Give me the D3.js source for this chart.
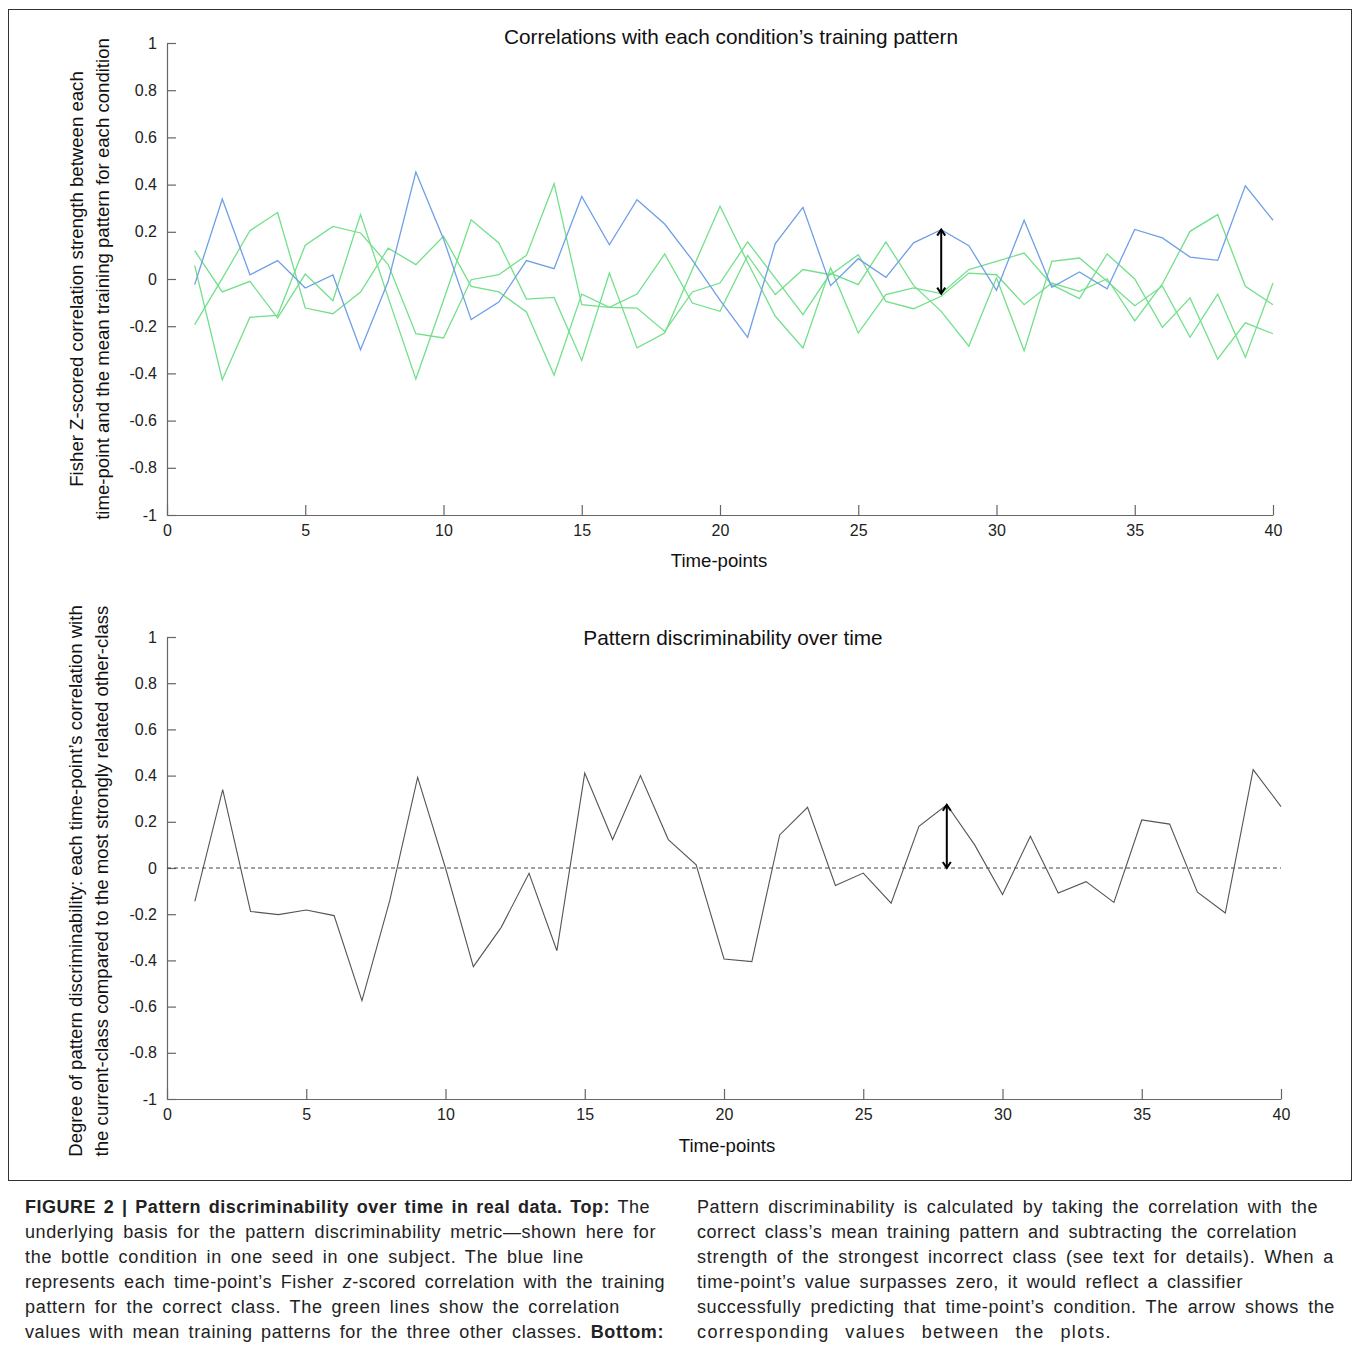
<!DOCTYPE html>
<html>
<head>
<meta charset="utf-8">
<script src="https://cdn.jsdelivr.net/npm/d3@7"></script>
<style>
  body { margin: 0; background: #fff; }
  text { font-family: Arial, "Liberation Sans", sans-serif; }
</style>
</head>
<body>
<div id="chart"></div>
<script>
// time-points 1..40
const timePoints = d3.range(1, 41);

// correlation with the correct class (blue)
const correctClass = [-0.024, 0.339, 0.018, 0.078, -0.038, 0.017, -0.30, -0.01, 0.453, 0.17,
  -0.172, -0.098, 0.078, 0.044, 0.35, 0.145, 0.336, 0.233, 0.08, -0.09,
  -0.247, 0.15, 0.304, -0.028, 0.086, 0.007, 0.153, 0.209, 0.141, -0.048,
  0.249, -0.035, 0.03, -0.042, 0.21, 0.174, 0.093, 0.079, 0.395, 0.249];

// correlations with the three other classes (green)
const otherClassA = [0.12, -0.055, -0.01, -0.165, 0.021, -0.092, 0.273, -0.079, -0.424, -0.09,
  0.251, 0.153, -0.085, -0.078, -0.345, 0.025, -0.292, -0.229, 0.04, 0.308,
  0.07, -0.158, -0.292, 0.047, -0.229, -0.066, -0.038, -0.062, 0.04, 0.075,
  0.11, -0.024, -0.083, 0.106, 0.0, -0.205, -0.08, -0.339, -0.186, -0.232];
const otherClassB = [0.058, -0.427, -0.162, -0.154, 0.143, 0.223, 0.195, 0.061, -0.232, -0.25,
  -0.003, 0.018, 0.10, 0.404, -0.109, -0.12, -0.064, 0.106, -0.102, -0.137,
  0.10, -0.066, 0.04, 0.018, 0.103, -0.095, -0.126, -0.073, 0.025, 0.018,
  -0.109, -0.017, -0.052, 0.001, -0.177, -0.021, 0.202, 0.273, -0.031, -0.109];
const otherClassC = [-0.193, 0.003, 0.205, 0.282, -0.123, -0.147, -0.055, 0.131, 0.061, 0.181,
  -0.031, -0.055, -0.14, -0.408, -0.064, -0.12, -0.123, -0.222, -0.055, -0.017,
  0.157, 0.004, -0.151, 0.025, -0.024, 0.157, -0.027, -0.137, -0.285, 0.004,
  -0.304, 0.075, 0.089, -0.01, -0.113, -0.03, -0.247, -0.064, -0.332, -0.017];

// pattern discriminability (bottom)
const discriminability = [-0.144, 0.339, -0.188, -0.202, -0.182, -0.206, -0.574, -0.14, 0.392, 0.0,
  -0.427, -0.257, -0.023, -0.358, 0.411, 0.123, 0.40, 0.123, 0.014, -0.394,
  -0.405, 0.143, 0.263, -0.076, -0.022, -0.152, 0.18, 0.274, 0.10, -0.115,
  0.137, -0.108, -0.059, -0.149, 0.208, 0.19, -0.105, -0.195, 0.426, 0.266];

const yTicks = [-1, -0.8, -0.6, -0.4, -0.2, 0, 0.2, 0.4, 0.6, 0.8, 1];
const xTicks = [0, 5, 10, 15, 20, 25, 30, 35, 40];
const arrowTime = 28;

const captionLeft = [
  [["FIGURE 2 | Pattern discriminability over time in real data. Top:", "b"], [" The", ""]],
  [["underlying basis for the pattern discriminability metric\u2014shown here for", ""]],
  [["the bottle condition in one seed in one subject. The blue line", ""]],
  [["represents each time-point\u2019s Fisher ", ""], ["z", "i"], ["-scored correlation with the training", ""]],
  [["pattern for the correct class. The green lines show the correlation", ""]],
  [["values with mean training patterns for the three other classes. ", ""], ["Bottom:", "b"]]
];
const captionLeftWidths = [625, 631, 559, 640, 595, 639];
const captionRight = [
  "Pattern discriminability is calculated by taking the correlation with the",
  "correct class\u2019s mean training pattern and subtracting the correlation",
  "strength of the strongest incorrect class (see text for details). When a",
  "time-point\u2019s value surpasses zero, it would reflect a classifier",
  "successfully predicting that time-point\u2019s condition. The arrow shows the",
  "corresponding values between the plots."
];
const captionRightWidths = [621, 600, 637, 546, 638, 415];

const width = 1355, height = 1351;
const svg = d3.select("#chart").append("svg")
  .attr("width", width).attr("height", height);

// figure frame
svg.append("rect")
  .attr("x", 8.5).attr("y", 9.5).attr("width", 1343).attr("height", 1171)
  .attr("fill", "none").attr("stroke", "#333").attr("stroke-width", 1);

const fmt = d => String(+d.toFixed(1));

function drawAxes(g, x, y) {
  const yAxis = g.append("g")
    .attr("transform", `translate(${x.range()[0]},0)`)
    .call(d3.axisLeft(y).tickValues(yTicks).tickFormat(fmt).tickSize(-9).tickSizeOuter(0).tickPadding(10));
  const xAxis = g.append("g")
    .attr("transform", `translate(0,${y.range()[0]})`)
    .call(d3.axisBottom(x).tickValues(xTicks).tickFormat(fmt).tickSize(-10).tickSizeOuter(0).tickPadding(10));
  [yAxis, xAxis].forEach(a => {
    a.selectAll("path, line").attr("stroke", "#666").attr("stroke-width", 1.2);
    a.selectAll("text").attr("font-size", 16).attr("fill", "#222")
      .attr("font-family", "Arial, 'Liberation Sans', sans-serif");
  });
}

function arrow(g, xPos, yFrom, yTo) {
  g.append("line")
    .attr("x1", xPos).attr("x2", xPos).attr("y1", yFrom + 1).attr("y2", yTo - 1)
    .attr("stroke", "#000").attr("stroke-width", 2);
  g.append("path")
    .attr("d", `M${xPos - 4},${yFrom + 6}L${xPos},${yFrom}L${xPos + 4},${yFrom + 6}`)
    .attr("fill", "none").attr("stroke", "#000").attr("stroke-width", 2);
  g.append("path")
    .attr("d", `M${xPos - 4},${yTo - 6}L${xPos},${yTo}L${xPos + 4},${yTo - 6}`)
    .attr("fill", "none").attr("stroke", "#000").attr("stroke-width", 2);
}

// ---------- top chart ----------
const x1 = d3.scaleLinear().domain([0, 40]).range([167, 1273]);
const y1 = d3.scaleLinear().domain([-1, 1]).range([515, 43]);
const topG = svg.append("g");
drawAxes(topG, x1, y1);

const line1 = d3.line().x((d, i) => x1(timePoints[i])).y(d => y1(d));
[otherClassA, otherClassB, otherClassC].forEach(s => {
  topG.append("path").attr("d", line1(s))
    .attr("fill", "none").attr("stroke", "#72e08a").attr("stroke-width", 1.3);
});
topG.append("path").attr("d", line1(correctClass))
  .attr("fill", "none").attr("stroke", "#6f9fe6").attr("stroke-width", 1.3);

const ai = arrowTime - 1;
arrow(topG, x1(arrowTime), y1(correctClass[ai]),
  y1(Math.max(otherClassA[ai], otherClassB[ai], otherClassC[ai])));

topG.append("text").attr("x", 731).attr("y", 44).attr("text-anchor", "middle")
  .attr("font-size", 20.8).attr("fill", "#111")
  .text("Correlations with each condition\u2019s training pattern");
topG.append("text").attr("x", 719).attr("y", 567).attr("text-anchor", "middle")
  .attr("font-size", 18.6).attr("fill", "#111").text("Time-points");
const yl1 = topG.append("text").attr("transform", "translate(0,279) rotate(-90)")
  .attr("text-anchor", "middle").attr("font-size", 18.6).attr("fill", "#111");
yl1.append("tspan").attr("x", 0).attr("y", 83).text("Fisher Z-scored correlation strength between each");
yl1.append("tspan").attr("x", 0).attr("y", 109).text("time-point and the mean training pattern for each condition");

// ---------- bottom chart ----------
const x2 = d3.scaleLinear().domain([0, 40]).range([167, 1281]);
const y2 = d3.scaleLinear().domain([-1, 1]).range([1099, 637]);
const bottomG = svg.append("g");
drawAxes(bottomG, x2, y2);

bottomG.append("line")
  .attr("x1", x2(0)).attr("x2", x2(40)).attr("y1", y2(0)).attr("y2", y2(0))
  .attr("stroke", "#444").attr("stroke-width", 1).attr("stroke-dasharray", "4,3");

const line2 = d3.line().x((d, i) => x2(timePoints[i])).y(d => y2(d));
bottomG.append("path").attr("d", line2(discriminability))
  .attr("fill", "none").attr("stroke", "#555").attr("stroke-width", 1.1);

arrow(bottomG, x2(arrowTime), y2(discriminability[ai]), y2(0));

bottomG.append("text").attr("x", 733).attr("y", 645).attr("text-anchor", "middle")
  .attr("font-size", 20.8).attr("fill", "#111").text("Pattern discriminability over time");
bottomG.append("text").attr("x", 727).attr("y", 1152).attr("text-anchor", "middle")
  .attr("font-size", 18.6).attr("fill", "#111").text("Time-points");
const yl2 = bottomG.append("text").attr("transform", "translate(0,881) rotate(-90)")
  .attr("text-anchor", "middle").attr("font-size", 18.6).attr("fill", "#111");
yl2.append("tspan").attr("x", 0).attr("y", 82).text("Degree of pattern discriminability: each time-point\u2019s correlation with");
yl2.append("tspan").attr("x", 0).attr("y", 108).text("the current-class compared to the most strongly related other-class");

// ---------- caption ----------
// spread each line to its width: part letter spacing, part word spacing
function justify(t, target) {
  const natural = t.node().getComputedTextLength();
  const str = t.text();
  const spaces = (str.match(/ /g) || []).length;
  const extra = target - natural;
  if (extra > 0 && spaces > 0) {
    t.attr("letter-spacing", 0.6 * extra / str.length)
      .attr("word-spacing", 0.4 * extra / spaces);
  } else {
    t.attr("textLength", target).attr("lengthAdjust", "spacingAndGlyphs");
  }
}

const cap = svg.append("g").attr("font-size", 18).attr("fill", "#222");
captionLeft.forEach((parts, i) => {
  const t = cap.append("text").attr("x", 25).attr("y", 1213 + i * 25);
  parts.forEach(([s, style]) => {
    const ts = t.append("tspan").text(s);
    if (style === "b") ts.attr("font-weight", "bold");
    if (style === "i") ts.attr("font-style", "italic");
  });
  justify(t, captionLeftWidths[i]);
});
captionRight.forEach((s, i) => {
  const t = cap.append("text").attr("x", 697).attr("y", 1213 + i * 25).text(s);
  justify(t, captionRightWidths[i]);
});
</script>
</body>
</html>
